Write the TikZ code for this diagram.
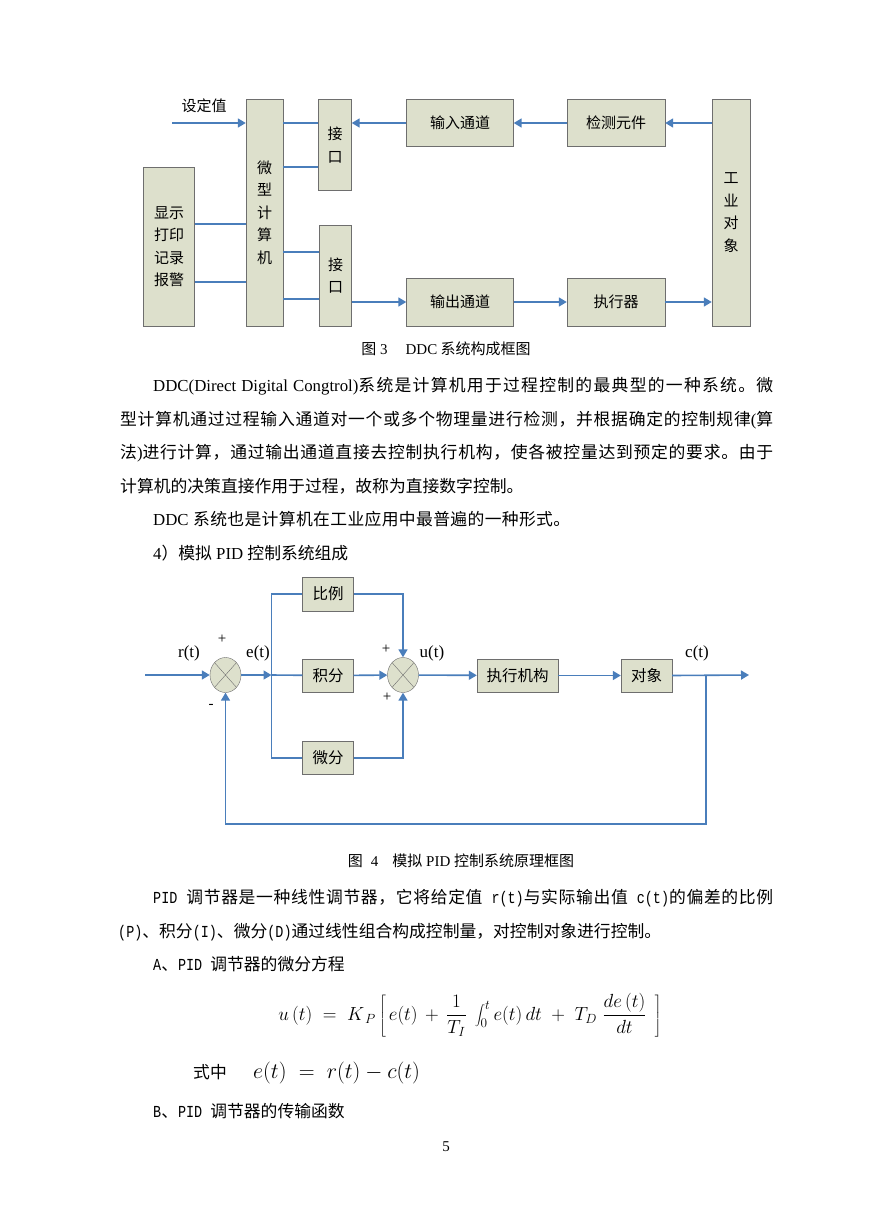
\RequirePackage{fix-cm}
\documentclass[tikz,border=0pt]{standalone}
\usepackage[no-math]{fontspec}
\setmainfont{Noto Sans CJK SC}
\newfontfamily\serifen{Liberation Serif}
\newfontfamily\monoen[FakeStretch=0.8]{Liberation Mono}
\usetikzlibrary{arrows.meta}
\usetikzlibrary{positioning}
\usetikzlibrary{shapes.geometric}
\definecolor{signalblau}{HTML}{4A7EBB}
\definecolor{kastenfill}{HTML}{DDE0CC}
\definecolor{kastenrand}{HTML}{6E6E6E}
% dehnbarer Abstand zwischen CJK-Zeichen (Blocksatz)
\newXeTeXintercharclass\hanzi
\count255="4E00
\loop \XeTeXcharclass\count255=\hanzi \ifnum\count255<"9FFF \advance\count255 by 1 \repeat
\count255="3000
\loop \XeTeXcharclass\count255=\hanzi \ifnum\count255<"303F \advance\count255 by 1 \repeat
\count255="FF00
\loop \XeTeXcharclass\count255=\hanzi \ifnum\count255<"FF5F \advance\count255 by 1 \repeat
\XeTeXinterchartokenstate=1
\XeTeXinterchartoks\hanzi\hanzi = {\hskip 0pt plus 3pt\relax}
\newcommand{\zeile}[2]{\makebox[#1][s]{#2}}

\begin{document}
\begin{tikzpicture}
    [
    x=1pt, y=-1pt, >={Triangle[length=8pt,width=9pt]},
    font=\fontsize{15}{22.5}\selectfont,
    kasten/.style={draw=kastenrand, fill=kastenfill, inner sep=0pt, align=center},
    signal/.style={signalblau, line width=1.6pt},
    summe/.style={ellipse, draw=kastenrand, fill=kastenfill, minimum width=31pt, minimum height=35pt, inner sep=0pt,
        path picture={\draw[kastenrand] (path picture bounding box.north west) -- (path picture bounding box.south east)
            (path picture bounding box.north east) -- (path picture bounding box.south west);}},
    zeichen/.style={inner sep=0pt, font=\serifen\fontsize{17}{20}\selectfont},
    absatz/.style={anchor=base west, inner sep=0pt, font=\fontsize{16.8}{20}\selectfont},
    titel/.style={inner sep=0pt, font=\fontsize{15}{18}\selectfont}
    ]
    
    %Seite
    \fill[white] (0,0) rectangle (869,1228);
    \useasboundingbox (0,0) rectangle (869,1228);
    
    %Bild 3: DDC
    \node[kasten, minimum width=37pt, minimum height=227pt] (rechner) at (264.5,212.5) {微\\型\\计\\算\\机};
    \node[kasten, minimum width=51pt, minimum height=159pt] (anzeige) at (169,246.5) {显示\\打印\\记录\\报警};
    \node[kasten, minimum width=33pt, minimum height=91pt] (schein) at (335,145) {接\\口};
    \node[kasten, minimum width=32pt, minimum height=101pt] (schaus) at (335.5,275.5) {接\\口};
    \node[kasten, minimum width=107pt, minimum height=47pt] (kanein) at (460,123) {输入通道};
    \node[kasten, minimum width=98pt, minimum height=47pt] (messg) at (616,123) {检测元件};
    \node[kasten, minimum width=38pt, minimum height=227pt] (anlage) at (731,212.5) {工\\业\\对\\象};
    \node[kasten, minimum width=107pt, minimum height=48pt] (kanaus) at (460,302) {输出通道};
    \node[kasten, minimum width=98pt, minimum height=48pt] (stellg) at (616,302) {执行器};
    \node[inner sep=0pt] (sollw) at (204,106) {设定值};
    \coordinate (sollein) at (172,123);
    
    \draw[signal,->] (sollein) -- (sollein -| rechner.west);
    \draw[signal] (rechner.east |- 0,123) -- (schein.west |- 0,123);
    \draw[signal] (rechner.east |- 0,167) -- (schein.west |- 0,167);
    \draw[signal] (rechner.east |- 0,252) -- (schaus.west |- 0,252);
    \draw[signal] (rechner.east |- 0,299) -- (schaus.west |- 0,299);
    \draw[signal] (anzeige.east |- 0,224) -- (rechner.west |- 0,224);
    \draw[signal] (anzeige.east |- 0,282) -- (rechner.west |- 0,282);
    \draw[signal,->] (anlage.west |- messg) -- (messg);
    \draw[signal,->] (messg) -- (kanein);
    \draw[signal,->] (kanein) -- (kanein -| schein.east);
    \draw[signal,->] (schaus.east |- kanaus) -- (kanaus);
    \draw[signal,->] (kanaus) -- (stellg);
    \draw[signal,->] (stellg) -- (stellg -| anlage.west);
    
    \node[titel] (bild3) at (446,349) {图{\serifen\ 3}\hspace{18pt}{\serifen DDC} 系统构成框图};
    
    %Text oben
    \node[absatz] (z1) at (153,391.5) {\zeile{620pt}{{\serifen DDC(Direct Digital Congtrol)}系统是计算机用于过程控制的最典型的一种系统。微}};
    \node[absatz] (z2) at (120,425) {\zeile{653pt}{型计算机通过过程输入通道对一个或多个物理量进行检测，并根据确定的控制规律{\serifen (}算}};
    \node[absatz] (z3) at (120,458.5) {\zeile{653pt}{法{\serifen )}进行计算，通过输出通道直接去控制执行机构，使各被控量达到预定的要求。由于}};
    \node[absatz] (z4) at (120,492) {\zeile{403pt}{计算机的决策直接作用于过程，故称为直接数字控制。}};
    \node[absatz] (z5) at (153,525.5) {\zeile{417pt}{{\serifen DDC }系统也是计算机在工业应用中最普遍的一种形式。}};
    \node[absatz] (z6) at (153,559) {{\serifen 4}）模拟{\serifen\ PID }控制系统组成};
    
    %Bild 4: PID
    \node[summe] (sum1) at (225.5,675) {};
    \node[summe] (sum2) at (403,675) {};
    \node[kasten, minimum width=51pt, minimum height=34pt, font=\fontsize{15.5}{18}\selectfont] (prop) at (328,594) {比例};
    \node[kasten, minimum width=51pt, minimum height=33pt, font=\fontsize{15.5}{18}\selectfont] (integ) at (328,675.5) {积分};
    \node[kasten, minimum width=51pt, minimum height=33pt, font=\fontsize{15.5}{18}\selectfont] (deriv) at (328,758) {微分};
    \node[kasten, minimum width=81pt, minimum height=33pt, font=\fontsize{15.5}{18}\selectfont] (stell) at (517.5,675.5) {执行机构};
    \node[kasten, minimum width=51pt, minimum height=33pt, font=\fontsize{15.5}{18}\selectfont] (objekt) at (646.5,675.5) {对象};
    \coordinate (eing) at (145,675);
    \coordinate (knoten) at (271.5,675);
    \coordinate (abzw) at (706,675);
    \coordinate (ausg) at (749,675);
    
    \draw[signal,->] (eing) -- (sum1);
    \draw[signal,->] (sum1) -- (knoten);
    \draw[signal] (knoten) -- (integ);
    \draw[signal] (prop.west) -| (knoten) |- (deriv.west);
    \draw[signal,->] (prop.east) -| (sum2.north);
    \draw[signal,->] (deriv.east) -| (sum2.south);
    \draw[signal,->] (integ) -- (sum2);
    \draw[signal,->] (sum2) -- (stell);
    \draw[signal,->] (stell) -- (objekt);
    \draw[signal,->] (objekt.east) -- (ausg);
    \draw[signal,->] (abzw) -- ++(0,149) -| (sum1.south);
    
    \node[zeichen] (rlab) at (189,653) {r(t)};
    \node[zeichen] (elab) at (258,653) {e(t)};
    \node[zeichen] (ulab) at (432,653) {u(t)};
    \node[zeichen] (clab) at (697,653) {c(t)};
    \node[zeichen, font=\serifen\fontsize{15}{18}\selectfont] (plus1) at (222,639) {+};
    \node[zeichen, font=\serifen\fontsize{15}{18}\selectfont] (minus1) at (211,706) {-};
    \node[zeichen, font=\serifen\fontsize{15}{18}\selectfont] (plus2) at (386,649) {+};
    \node[zeichen, font=\serifen\fontsize{15}{18}\selectfont] (plus3) at (387,697) {+};
    
    \node[titel] (bild4) at (461,861) {图\hspace{8pt}{\serifen 4}\hspace{14pt}模拟{\serifen\ PID }控制系统原理框图};
    
    %Text unten
    \node[absatz] (p1) at (153,903.5) {\zeile{620pt}{{\monoen PID }调节器是一种线性调节器，它将给定值{\monoen\ r(t)}与实际输出值{\monoen\ c(t)}的偏差的比例}};
    \node[absatz] (p2) at (118,937.5) {{\monoen (P)}、积分{\monoen (I)}、微分{\monoen (D)}通过线性组合构成控制量，对控制对象进行控制。};
    \node[absatz] (pa) at (153,970.5) {{\monoen A}、{\monoen PID }调节器的微分方程};
    \node[inner sep=0pt] (gleichung) at (470,1015) {\fontsize{19}{22}\selectfont$\displaystyle u\,(t)\;=\;K_{\,P}\left[\,e(t)\,+\,\frac{1}{T_{I}}\;\int_{0}^{t}e(t)\,dt\;+\;T_{D}\;\frac{de\,(t)}{dt}\;\,\right]$};
    \node[absatz] (shizhong) at (193,1078) {式中};
    \node[anchor=base west, inner sep=0pt] (egl) at (253,1078) {\fontsize{22}{24}\selectfont$e(t)\;=\;r(t)-c(t)$};
    \node[absatz] (pb) at (153,1117.5) {{\monoen B}、{\monoen PID }调节器的传输函数};
    \node[titel] (seite) at (446,1147) {\serifen 5};
\end{tikzpicture}
\end{document}
